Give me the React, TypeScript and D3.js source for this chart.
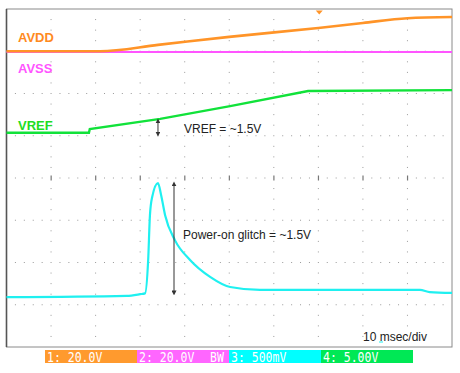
import React from 'react';
import * as d3 from 'd3';

// time in ms (10 ms/div, 10 divisions), values in screen divisions (0 = bottom, 8 = top)
const avddT = [0, 21, 34, 50, 70, 80, 90, 100];
const avddV = [7.0, 7.0, 7.15, 7.34, 7.55, 7.67, 7.78, 7.81];

const avssT = [0, 100];
const avssV = [6.98, 6.98];

const vrefT = [0, 18.5, 18.7, 34.5, 50.2, 67.7, 100];
const vrefV = [5.07, 5.07, 5.16, 5.4, 5.7, 6.06, 6.08];

const glitchT = [0, 27, 30, 31.1, 31.8, 32.2, 32.7, 34.0, 34.7, 35.6, 37.8, 41.2, 45.7, 50.2, 56.9, 92.8, 95.0, 100];
const glitchV = [1.18, 1.21, 1.25, 1.27, 2.06, 3.12, 3.55, 3.88, 3.6, 3.12, 2.53, 2.06, 1.66, 1.42, 1.35, 1.35, 1.3, 1.28];

const channelLabels = ['1: 20.0V', '2: 20.0V', '3: 500mV', '4: 5.00V'];
const channelColors = ['#ff9a2e', '#ff66ff', '#00ffff', '#00e855'];

const W = 460;
const H = 373;
const margin = { top: 9, right: 8, bottom: 26, left: 6.5 };

export default function App() {
  const x = d3.scaleLinear().domain([0, 100]).range([margin.left, W - margin.right]);
  const y = d3.scaleLinear().domain([0, 8]).range([H - margin.bottom, margin.top]);

  const line = d3
    .line<[number, number]>()
    .x((d) => x(d[0]))
    .y((d) => y(d[1]))
    .curve(d3.curveMonotoneX);

  const pts = (t: number[], v: number[]) => t.map((d, i) => [d, v[i]] as [number, number]);

  // dotted graticule
  const dots: React.ReactNode[] = [];
  for (let r = 1; r < 8; r++) {
    for (let s = 1; s < 50; s++) {
      if (s % 5 === 0) continue;
      dots.push(<rect key={`h${r}-${s}`} x={x(s * 2) - 0.5} y={y(r) - 0.5} width={1} height={1} fill="#9a9a9a" />);
    }
  }
  for (let c = 1; c < 10; c++) {
    for (let s = 1; s < 32; s++) {
      const isMajor = s % 4 === 0;
      if (isMajor && s / 4 === 4) {
        dots.push(<rect key={`v${c}-${s}`} x={x(c * 10) - 0.5} y={y(4) - 2.5} width={1.2} height={5} fill="#777" />);
      } else {
        dots.push(<rect key={`v${c}-${s}`} x={x(c * 10) - 0.5} y={y(s / 4) - 0.5} width={1} height={1} fill="#9a9a9a" />);
      }
    }
  }

  const barW = 92;
  const barX0 = 45;
  const barY = 350;
  const mono = "'DejaVu Sans Mono', monospace";

  return (
    <svg width={W} height={H} style={{ position: 'absolute', left: 0, top: 0 }} fontFamily="'Liberation Sans', Arial, sans-serif">
      <defs>
        <marker id="ah" viewBox="0 0 6 6" refX="3" refY="3" markerWidth="5" markerHeight="5" orient="auto-start-reverse">
          <path d="M0,0 L6,3 L0,6 Z" fill="#333" />
        </marker>
      </defs>
      <rect width={W} height={H} fill="#fff" />
      {dots}
      <rect x={x(0)} y={y(8)} width={x(100) - x(0)} height={y(0) - y(8)} fill="none" stroke="#8a8a8a" strokeWidth={1} />
      <line x1={x(0)} x2={x(0)} y1={y(8)} y2={y(0)} stroke="#555" strokeWidth={1.6} />

      <path d={line(pts(avssT, avssV)) || ''} fill="none" stroke="#ff55ff" strokeWidth={2} />
      <path d={line(pts(avddT, avddV)) || ''} fill="none" stroke="#ff9428" strokeWidth={2.6} />
      <path d={d3.line<[number, number]>().x((d) => x(d[0])).y((d) => y(d[1]))(pts(vrefT, vrefV)) || ''} fill="none" stroke="#11e23a" strokeWidth={2.4} />
      <path d={line(pts(glitchT, glitchV)) || ''} fill="none" stroke="#1ff0f0" strokeWidth={2.2} />

      {/* trigger marker */}
      <path d={`M${x(70.2) - 3.5},${y(8) + 1.5} L${x(70.2) + 3.5},${y(8) + 1.5} L${x(70.2)},${y(8) + 5.5} Z`} fill="#ff9428" />

      <text x={18} y={42} fontSize={13} fontWeight="bold" fill="#ff8a1e">AVDD</text>
      <text x={18} y={73} fontSize={13} fontWeight="bold" fill="#ff55ff">AVSS</text>
      <text x={18} y={130} fontSize={13} fontWeight="bold" fill="#22dd22">VREF</text>

      <line x1={x(34)} x2={x(34)} y1={y(5.35)} y2={y(5.04)} stroke="#333" strokeWidth={1} markerStart="url(#ah)" markerEnd="url(#ah)" />
      <text x={184} y={133} fontSize={12} fill="#222">VREF = ~1.5V</text>

      <line x1={x(37.6)} x2={x(37.6)} y1={y(3.86)} y2={y(1.28)} stroke="#333" strokeWidth={1} markerStart="url(#ah)" markerEnd="url(#ah)" />
      <text x={183} y={239} fontSize={12} fill="#222">Power-on glitch = ~1.5V</text>

      <text x={363} y={341} fontSize={12} fill="#222">10 msec/div</text>
      <line x1={379} x2={383} y1={342} y2={342} stroke="#1ff0f0" strokeWidth={1} />

      {channelLabels.map((lab, i) => (
        <g key={lab}>
          <rect x={barX0 + i * barW} y={barY} width={barW} height={13} fill={channelColors[i]} />
          <text
            transform={`translate(${barX0 + i * barW + 2},${barY + 11.5}) scale(1,1.18)`}
            fontSize={11.5}
            fill="#fff"
            fontFamily={mono}
          >
            {lab}
          </text>
        </g>
      ))}
      <text transform={`translate(210,${barY + 11.5}) scale(1,1.18)`} fontSize={11.5} fill="#fff" fontFamily={mono}>BW</text>
    </svg>
  );
}
